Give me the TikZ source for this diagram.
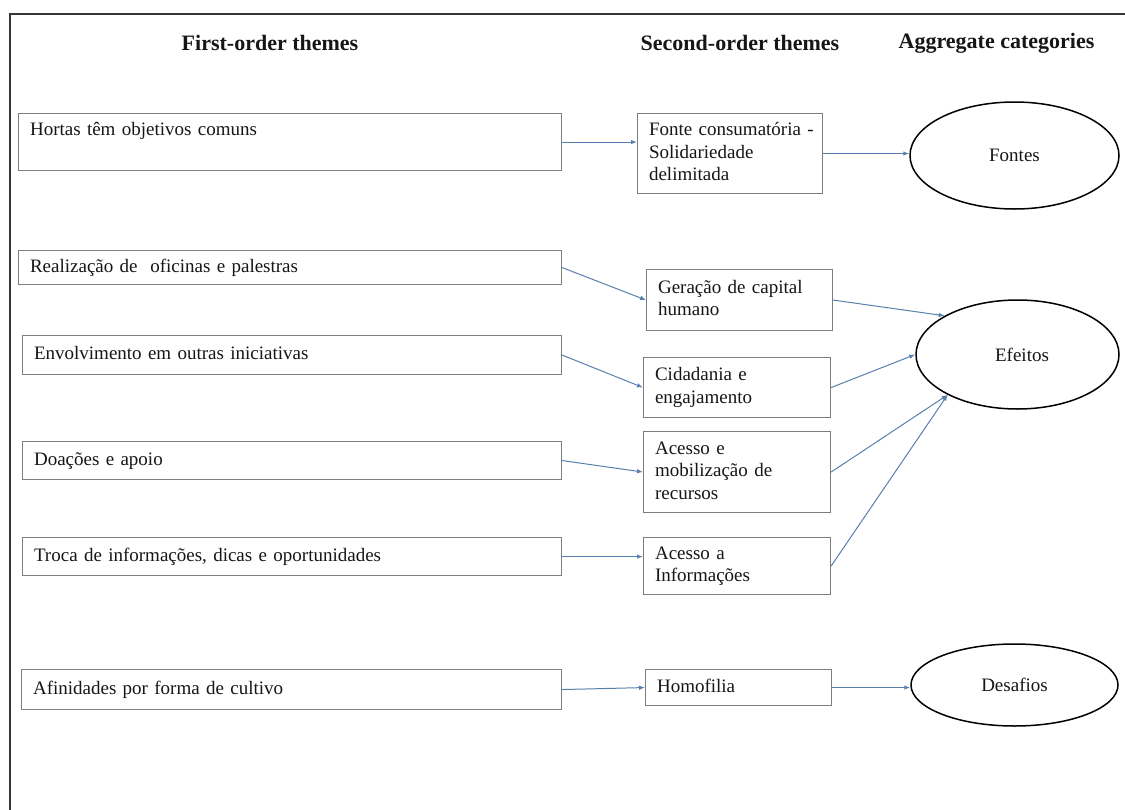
\documentclass[tikz,border=0pt]{standalone}
\usepackage{fontspec}
\setmainfont{Liberation Serif}
\usetikzlibrary{arrows.meta,shapes.geometric,calc}
\definecolor{boxgray}{RGB}{125,125,125}
\definecolor{arrowblue}{RGB}{88,128,174}
\definecolor{framegray}{RGB}{55,55,55}
\definecolor{inkc}{RGB}{22,22,22}
\hyphenpenalty=10000
\exhyphenpenalty=10000
\begin{document}
\begin{tikzpicture}[x=1pt,y=-1pt,
  bodyfont/.style={font=\fontsize{19}{22.5}\selectfont},
  hdr/.style={font=\fontsize{22}{26}\selectfont\bfseries, text=inkc, inner sep=0pt},
  firstbox/.style={bodyfont, draw=boxgray, line width=1.1pt, anchor=north west,
    inner xsep=11.5pt, inner ysep=0pt, align=left, text=inkc,
    text height=15.75pt, text depth=6.75pt},
  secondbox/.style={bodyfont, draw=boxgray, line width=1.1pt, anchor=north west,
    inner xsep=11.5pt, inner ysep=0pt, align=left, text=inkc,
    execute at begin node=\strut, execute at end node=\strut},
  aggbox/.style={bodyfont, ellipse, draw=black, line width=1.5pt, inner sep=0pt, text=inkc},
  conn/.style={draw=arrowblue, line width=1pt, -{Latex[length=6pt,width=4.5pt]}}
]
\useasboundingbox (0,0) rectangle (1125,809);
\clip (0,0) rectangle (1125,809);
\fill[white] (0,0) rectangle (1125,809);

% outer frame (right and bottom sides lie outside the picture)
\coordinate (frameBL) at (10,840);
\coordinate (frameTL) at (10,14);
\coordinate (frameTR) at (1160,14);
\draw[framegray, line width=2.2pt] (frameBL) -- (frameTL) -- (frameTR);

% headers
\node[hdr] (h1) at (270,43) {First-order themes};
\node[hdr] (h2) at (740,43) {Second-order themes};
\node[hdr] (h3) at (996.5,43) {Aggregate categories};

% first-order themes
\node[firstbox, text width=520pt, minimum height=57pt, text height=18pt, text depth=31pt] (f1) at (18,113) {Hortas têm objetivos comuns};
\node[firstbox, text width=520pt, minimum height=34pt] (f2) at (18,250) {Realização de \ oficinas e palestras};
\node[firstbox, text width=516pt, minimum height=39pt] (f3) at (22,335) {Envolvimento em outras iniciativas};
\node[firstbox, text width=516pt, minimum height=38pt] (f4) at (22,441) {Doações e apoio};
\node[firstbox, text width=516pt, minimum height=38pt] (f5) at (22,537) {Troca de informações, dicas e oportunidades};
\node[firstbox, text width=517pt, minimum height=40pt] (f6) at (21,669) {Afinidades por forma de cultivo};

% second-order themes
\node[secondbox, text width=162pt, minimum height=80pt] (s1) at (637,113) {\mbox{Fonte consumatória -}\\Solidariedade\\delimitada};
\node[secondbox, text width=163pt, minimum height=61pt] (s2) at (646,269) {Geração de capital\\humano};
\node[secondbox, text width=164pt, minimum height=60pt] (s3) at (643,357) {Cidadania e\\engajamento};
\node[secondbox, text width=164pt, minimum height=81pt] (s4) at (643,431) {Acesso e\\mobilização de\\recursos};
\node[secondbox, text width=164pt, minimum height=57pt] (s5) at (643,537) {Acesso a\\Informações};
\node[secondbox, text width=163pt, minimum height=36pt] (s6) at (645,669) {Homofilia};

% aggregate categories
\node[aggbox, minimum width=209pt, minimum height=107pt] (fontes) at (1014.5,155.5) {Fontes};
\node[aggbox, minimum width=203pt, minimum height=109pt] (efeitos) at (1017.5,354.5) {\hspace*{9pt}Efeitos};
\node[aggbox, minimum width=207pt, minimum height=82pt] (desafios) at (1014.5,685) {Desafios};

% connectors: first-order -> second-order
\draw[conn] (f1.east) -- (f1.east -| s1.west);
\draw[conn] (f2.east) -- (s2.west);
\draw[conn] (f3.east) -- (s3.west);
\draw[conn] (f4.east) -- (s4.west);
\draw[conn] (f5.east) -- (f5.east -| s5.west);
\draw[conn] (f6.east) -- (s6.west);

% connectors: second-order -> aggregate
\draw[conn] (s1.east) -- (s1.east -| fontes.west);
\draw[conn] (s2.east) -- (efeitos.152);
\draw[conn] (s3.east) -- (efeitos.west);
\draw[conn] (s4.east) -- (efeitos.210);
\draw[conn] (s5.east) -- (efeitos.210);
\draw[conn] (s6.east) -- (s6.east -| desafios.west);
\end{tikzpicture}
\end{document}
